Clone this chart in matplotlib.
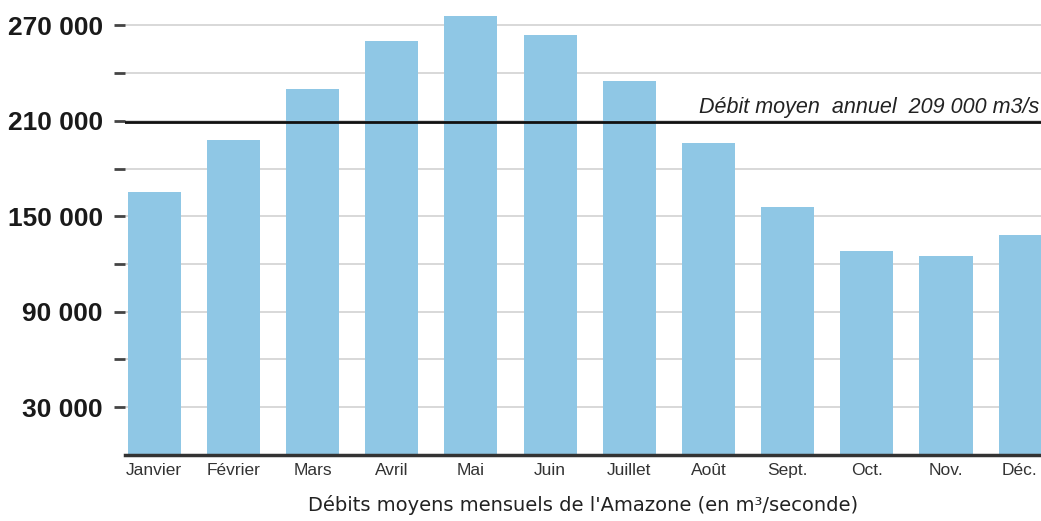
import matplotlib.pyplot as plt
from matplotlib.transforms import ScaledTranslation

# Monthly mean discharge of the Amazon (m3/s)
months = ['Janvier', 'Février', 'Mars', 'Avril', 'Mai', 'Juin',
          'Juillet', 'Août', 'Sept.', 'Oct.', 'Nov.', 'Déc.']
flows = [165000, 198000, 230000, 260000, 276000, 264000,
         235000, 196000, 156000, 128000, 125000, 138000]
annual_mean = 209000

y_ticks = [30000, 60000, 90000, 120000, 150000, 180000, 210000, 240000, 270000]
y_labels = ['30 000', '', '90 000', '', '150 000', '', '210 000', '', '270 000']

fig = plt.figure(figsize=(10.41, 5.21), dpi=100)
ax = fig.add_axes([0.12, 0.127, 0.88, 0.873])

x = list(range(len(months)))
ax.bar(x, flows, width=0.67, color='#8fc7e5', zorder=2)

ax.axhline(annual_mean, color='#111111', linewidth=2, zorder=3)
ax.text(11.18, annual_mean + 2500, 'Débit moyen  annuel  209 000 m3/s',
        ha='right', va='bottom', style='italic', fontsize=15.5,
        family='Liberation Sans', color='#222222', zorder=4)

ax.set_xlim(-0.37, 11.2)
ax.set_ylim(0, 286000)
ax.set_yticks(y_ticks)
ax.set_yticklabels(y_labels, fontsize=19, fontweight='bold',
                   family='Liberation Sans', color='#1a1a1a')
ax.set_xticks(x)
ax.set_xticklabels(months, fontsize=12.5, family='Liberation Sans', color='#333333')
ax.tick_params(axis='y', length=8, width=2, color='#444444', pad=8)
ax.tick_params(axis='x', length=0, pad=6)

# keep the last month label inside the figure
last = ax.get_xticklabels()[-1]
last.set_transform(last.get_transform() + ScaledTranslation(-4 / 72, 0, fig.dpi_scale_trans))

ax.grid(axis='y', color='#d6d6d6', linewidth=1.3, zorder=0)
ax.set_axisbelow(True)

for side in ['top', 'right', 'left']:
    ax.spines[side].set_visible(False)
ax.spines['bottom'].set_color('#333333')
ax.spines['bottom'].set_linewidth(2.5)

ax.set_xlabel("Débits moyens mensuels de l'Amazone (en m³/seconde)",
              fontsize=14, color='#222222', labelpad=12)

fig.savefig('out.png', dpi=100)
